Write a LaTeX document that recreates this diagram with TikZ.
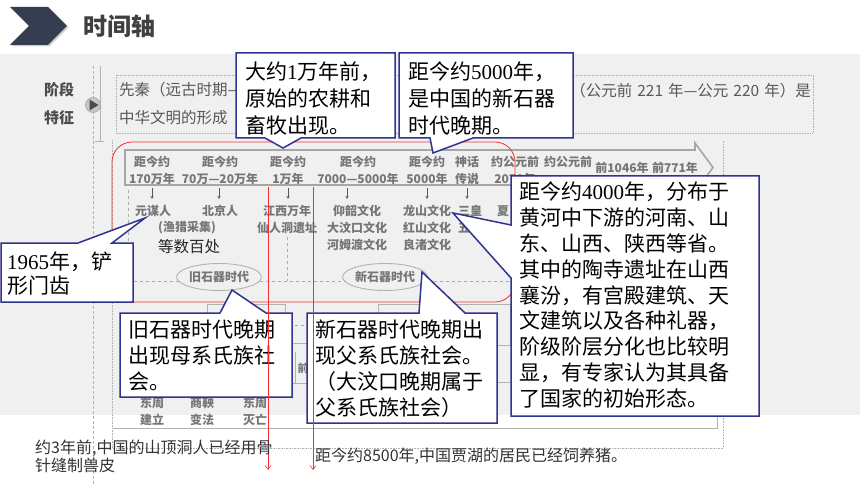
\documentclass[tikz,border=0pt]{standalone}
\usepackage{fontspec}
\setmainfont{Noto Sans CJK SC}
\newfontfamily\dig{Liberation Serif}
\usetikzlibrary{arrows.meta,shapes.geometric}
\definecolor{navy}{RGB}{47,52,145}
\definecolor{chev}{RGB}{52,62,80}
\definecolor{bgray}{RGB}{240,240,240}
\definecolor{tbtext}{RGB}{118,118,118}
\definecolor{redl}{RGB}{250,45,45}
\tikzset{
  cbox/.style={draw=navy, line width=1.5pt, fill=white, line join=miter},
  ctext/.style={anchor=north west, inner sep=0pt, align=left, text=black},
  tbt/.style={text=tbtext, font=\bfseries\fontsize{12}{17}\selectfont, inner sep=0pt, align=center},
  tbline/.style={draw=gray!60, line width=0.7pt},
  tbdash/.style={draw=gray!65, dashed, line width=0.8pt},
  dotbox/.style={draw=gray!60, densely dotted, line width=0.6pt},
  redarrow/.style={draw=redl, line width=0.6pt, -{Straight Barb[length=4pt,width=6pt]}},
  notetext/.style={anchor=north west, inner sep=0pt, align=left, text=black!80, font=\fontsize{16}{18}\selectfont},
  oval/.style={ellipse, draw=gray!60, line width=0.9pt, fill=bgray, minimum height=27pt, inner sep=0pt, text=tbtext, font=\bfseries\fontsize{12}{14}\selectfont},
  smallarrow/.style={draw=black!65, line width=0.6pt, -{Stealth[length=3pt,width=3pt]}}
}
\begin{document}
\begin{tikzpicture}[x=1pt,y=-1pt]
\useasboundingbox (0,0) rectangle (860,484);
\fill[white] (0,0) rectangle (860,484);
% header
\fill[black!18] (11.5,8.5) -- (49.5,8.5) -- (68.5,27.5) -- (49.5,46.5) -- (11.5,46.5) -- (30.5,27.5) -- cycle;
\fill[chev] (10,7) -- (48,7) -- (67,26) -- (48,45) -- (10,45) -- (29,26) -- cycle;
\node[anchor=west, inner sep=0pt, text=black!75, font=\bfseries\fontsize{24}{28}\selectfont] (title) at (83,26) {时间轴};
% gray background
\fill[bgray] (0,54) rectangle (860,415);
% left stage labels
\node[inner sep=0pt, text=black!70, font=\bfseries\fontsize{15}{18}\selectfont] (jd) at (59,90) {阶段};
\node[inner sep=0pt, text=black!70, font=\bfseries\fontsize{15}{18}\selectfont] (tz) at (59,118) {特征};
\draw[draw=gray!60, line width=0.8pt, dash pattern=on 3pt off 2pt] (93,66) -- (93,484);
\draw[tbline] (100,66) -- (100,141);
\draw[tbline] (95,141) -- (104,141);
\draw[draw=gray!70, fill=gray!45, line width=0.6pt] (93,105) circle (7.5);
\fill[black!70] (89.5,99.5) -- (98.5,105) -- (89.5,110.5) -- cycle;
% dotted boxes
\draw[dotbox] (116,75) rectangle (813,133);
\draw[dotbox] (112,140) -- (112,448) -- (723,448) -- (723,140);
\node[anchor=west, inner sep=0pt, text=black!65, font=\fontsize{15.5}{18}\selectfont] (l1a) at (119,90) {先秦（远古时期—};
\node[anchor=east, inner sep=0pt, text=black!65, font=\fontsize{15.5}{18}\selectfont] (l1b) at (811,91) {（公元前\hspace{5pt}221\hspace{5pt}年—公元\hspace{5pt}220\hspace{5pt}年）是};
\node[anchor=west, inner sep=0pt, text=black!65, font=\fontsize{15.5}{18}\selectfont] (l2a) at (119,118) {中华文明的形成};
% timeline band
\draw[draw=gray!70, line width=1.6pt, fill=black!6, line join=miter] (125,150) -- (695,150) -- (695,143) -- (713,167.5) -- (695,192) -- (695,185) -- (125,185) -- cycle;
\node[tbt] (b1) at (152,170) {距今约\\170万年};
\node[tbt] (b2) at (220,170) {距今约\\70万—20万年};
\node[tbt] (b3) at (288,170) {距今约\\1万年};
\node[tbt] (b4) at (358,170) {距今约\\7000—5000年};
\node[tbt] (b5) at (427,170) {距今约\\5000年};
\node[tbt] (b6) at (467,170) {神话\\传说};
\node[tbt] (b7) at (515,170) {约公元前\\2070年};
\node[tbt] (b8) at (568,161.5) {约公元前};
\node[tbt] (b9) at (622,168) {前1046年};
\node[tbt] (b10) at (675,168) {前771年};
\foreach \x in {152,219,288,347,427,467} \draw[smallarrow] (\x,188) -- (\x,199);
% sites
\node[tbt] (s1) at (153,211) {元谋人};
\node[tbt] (s1b) at (187,228) {(渔猎采集)};
\node[tbt] (s2) at (220,211) {北京人};
\node[tbt] (s3) at (287,219.5) {江西万年\\仙人洞遗址};
\node[tbt] (s4) at (357,228) {仰韶文化\\大汶口文化\\河姆渡文化};
\node[tbt] (s5) at (427,228) {龙山文化\\红山文化\\良渚文化};
\node[tbt] (s6) at (470,219.5) {三皇\\五帝};
\node[tbt] (s7) at (503,211) {夏};
\node[inner sep=0pt, text=black!85, font=\fontsize{15.5}{18}\selectfont] (dsbc) at (189,247) {等数百处};
% dashed structure
\draw[tbdash] (128,190) -- (128,281);
\draw[tbdash] (287,237) -- (287,281);
\draw[tbdash] (128,281) -- (511,281);
\node[oval, minimum width=75pt] (e1) at (219,277) {旧石器时代};
\node[oval, minimum width=73pt] (e2) at (385,277) {新石器时代};
% lower textbook remnants
\draw[tbline] (207,304) rectangle (285,345);
\draw[tbline] (378,304) rectangle (510,345);
\draw[tbdash] (283,325) -- (320,325);
\draw[tbline] (285,343) -- (320,343);
\draw[tbline] (285,383) -- (320,383);
\draw[tbline] (295,352) -- (295,383);
\draw[tbline] (490,345) -- (515,345);
\draw[tbline] (490,382) -- (515,382);
\node[tbt, font=\bfseries\fontsize{11}{13}\selectfont] (qian) at (303,368) {前};
\node[tbt] (dz1) at (152,411) {东周\\建立};
\node[tbt] (sy) at (202,411) {商鞅\\变法};
\node[tbt] (dz2) at (255,411) {东周\\灭亡};
\draw[tbline] (113,428) -- (717,428) -- (717,405);
% red frame
\draw[redl, line width=0.8pt, rounded corners=20pt] (112,142) rectangle (515,302);
% callouts
\draw[cbox] (236,53) -- (395,53) -- (395,138) -- (301,138) -- (283,148) -- (265,138) -- (236,138) -- cycle;
\node[ctext, font=\fontsize{21}{27}\selectfont] (ta) at (245,62) {大约{\dig 1}万年前，\\原始的农耕和\\畜牧出现。};
\draw[cbox] (399,53) -- (573,53) -- (573,138) -- (473,138) -- (433,153) -- (430,138) -- (399,138) -- cycle;
\node[ctext, font=\fontsize{21}{27}\selectfont] (tb) at (408,62) {距今约{\dig 5000}年，\\是中国的新石器\\时代晚期。};
\draw[cbox] (511,176) -- (759,176) -- (759,416) -- (511,416) -- (511,278) -- (453,213) -- (511,225) -- cycle;
\node[ctext, font=\fontsize{21}{25.8}\selectfont] (tc) at (519,182) {距今约{\dig 4000}年，分布于\\黄河中下游的河南、山\\东、山西、陕西等省。\\其中的陶寺遗址在山西\\襄汾，有宫殿建筑、天\\文建筑以及各种礼器，\\阶级阶层分化也比较明\\显，有专家认为其具备\\了国家的初始形态。};
\draw[cbox] (1,243) -- (78,243) -- (145,218) -- (112,243) -- (133,243) -- (133,302) -- (1,302) -- cycle;
\node[ctext, font=\fontsize{21}{24}\selectfont] (td) at (7,252) {{\dig 1965}年，铲\\形门齿};
\draw[cbox] (120,313) -- (220,313) -- (232,290) -- (266,313) -- (292,313) -- (292,397) -- (120,397) -- cycle;
\node[ctext, font=\fontsize{21}{26}\selectfont] (te) at (128,320) {旧石器时代晚期\\出现母系氏族社\\会。};
\draw[cbox] (307,313) -- (419,313) -- (422,272) -- (465,313) -- (497,313) -- (497,423) -- (307,423) -- cycle;
\node[ctext, font=\fontsize{21}{25.7}\selectfont] (tf) at (315,320) {新石器时代晚期出\\现父系氏族社会。\\（大汶口晚期属于\\父系氏族社会）};
% red arrows
\coordinate (ra1) at (268,187);
\coordinate (ra1e) at (268,470);
\coordinate (ra2) at (313,187);
\coordinate (ra2e) at (313,470);
\draw[redarrow] (ra1) -- (ra1e);
\draw[redarrow] (ra2) -- (ra2e);
% notes
\node[notetext] (n1) at (35,439.5) {约3年前,中国的山顶洞人已经用骨\\针缝制兽皮};
\node[notetext] (n2) at (315,447.5) {距今约8500年,中国贾湖的居民已经饲养猪。};
\end{tikzpicture}
\end{document}
